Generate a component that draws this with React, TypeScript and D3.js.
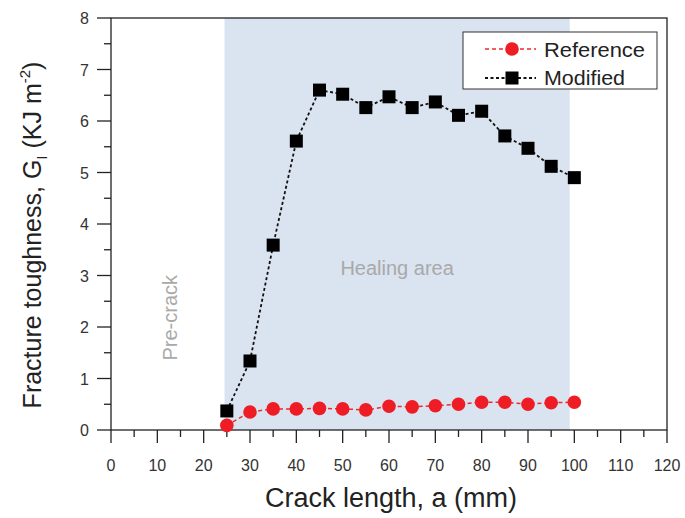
import React from 'react'
import * as d3 from 'd3'

// crack length (mm)
const crackLength = [25, 30, 35, 40, 45, 50, 55, 60, 65, 70, 75, 80, 85, 90, 95, 100]
const referenceG = [0.09, 0.35, 0.41, 0.41, 0.42, 0.41, 0.39, 0.46, 0.45, 0.47, 0.5, 0.54, 0.54, 0.5, 0.53, 0.54]
const modifiedG = [0.37, 1.34, 3.59, 5.61, 6.6, 6.52, 6.26, 6.47, 6.26, 6.37, 6.11, 6.19, 5.71, 5.47, 5.12, 4.9]
const healingRange = [24.5, 99]
const xTicks = d3.range(0, 121, 10)
const yTicks = d3.range(0, 9, 1)

const W = 685
const H = 518
const margin = { left: 111, right: 18, top: 18, bottom: 88 }

const App = () => {
  const x = d3.scaleLinear().domain([0, 120]).range([margin.left, W - margin.right])
  const y = d3.scaleLinear().domain([0, 8]).range([H - margin.bottom, margin.top])
  const line = d3
    .line<number>()
    .x((_, i) => x(crackLength[i]))
    .y((d) => y(d))

  const x0 = x(0)
  const x1 = x(120)
  const y0 = y(0)
  const y1 = y(8)
  const minorX = d3.range(5, 120, 10)
  const minorY = d3.range(0.5, 8, 1)
  const tickColor = '#222'

  return (
    <svg width={W} height={H} style={{ position: 'absolute', left: 0, top: 0, fontFamily: 'Liberation Sans, Arial, sans-serif' }}>
      <rect width={W} height={H} fill="#fff" />
      <rect x={x(healingRange[0])} y={y1} width={x(healingRange[1]) - x(healingRange[0])} height={y0 - y1} fill="#dae3f0" />
      <text x={(x(healingRange[0]) + x(healingRange[1])) / 2} y={y(3.05) + 2} textAnchor="middle" fontSize={20} fill="#a9a9a9">Healing area</text>
      <text transform={`translate(${x(14.2)},${y(2.18)}) rotate(-90)`} textAnchor="middle" fontSize={20} fill="#a9a9a9">Pre-crack</text>

      {/* frame */}
      <rect x={x0} y={y1} width={x1 - x0} height={y0 - y1} fill="none" stroke={tickColor} strokeWidth={1.3} />

      {/* x ticks */}
      {xTicks.map((t) => (
        <g key={'x' + t}>
          <line x1={x(t)} x2={x(t)} y1={y0} y2={y0 + 13} stroke={tickColor} strokeWidth={1.3} />
          <text x={x(t)} y={y0 + 41} textAnchor="middle" fontSize={16} fill="#333">{t}</text>
        </g>
      ))}
      {minorX.map((t) => (
        <line key={'mx' + t} x1={x(t)} x2={x(t)} y1={y0} y2={y0 + 7} stroke={tickColor} strokeWidth={1.3} />
      ))}
      {/* y ticks */}
      {yTicks.map((t) => (
        <g key={'y' + t}>
          <line x1={x0 - 14} x2={x0} y1={y(t)} y2={y(t)} stroke={tickColor} strokeWidth={1.3} />
          <text x={x0 - 22} y={y(t) + 6} textAnchor="end" fontSize={16} fill="#333">{t}</text>
        </g>
      ))}
      {minorY.map((t) => (
        <line key={'my' + t} x1={x0 - 7} x2={x0} y1={y(t)} y2={y(t)} stroke={tickColor} strokeWidth={1.3} />
      ))}

      {/* axis titles */}
      <text x={391} y={H - 11} textAnchor="middle" fontSize={27} fill="#222">Crack length, a (mm)</text>
      <text transform={`translate(41,235) rotate(-90)`} textAnchor="middle" fontSize={25} fill="#222">
        Fracture toughness, G<tspan fontSize={15} dy={6}>I</tspan>
        <tspan dy={-6}> (KJ m</tspan>
        <tspan fontSize={15} dy={-11}>-2</tspan>
        <tspan dy={11}>)</tspan>
      </text>

      {/* series */}
      <path d={line(referenceG) ?? ''} fill="none" stroke="#ee2a2a" strokeWidth={1.5} strokeDasharray="4,3" />
      <path d={line(modifiedG) ?? ''} fill="none" stroke="#111" strokeWidth={1.8} strokeDasharray="3,2.5" />
      {referenceG.map((v, i) => (
        <circle key={'r' + i} cx={x(crackLength[i])} cy={y(v)} r={6.8} fill="#ee1c24" />
      ))}
      {modifiedG.map((v, i) => (
        <rect key={'m' + i} x={x(crackLength[i]) - 6.5} y={y(v) - 6.5} width={13} height={13} fill="#000" />
      ))}

      {/* legend */}
      <g>
        <rect x={463} y={32} width={194} height={57} fill="#fff" stroke="#333" strokeWidth={1} />
        <line x1={485} x2={536} y1={49} y2={49} stroke="#ee2a2a" strokeWidth={1.5} strokeDasharray="4,3" />
        <circle cx={512} cy={49} r={6.8} fill="#ee1c24" />
        <text x={544} y={57} fontSize={20} fill="#222" textLength={101} lengthAdjust="spacingAndGlyphs">Reference</text>
        <line x1={485} x2={536} y1={78} y2={78} stroke="#111" strokeWidth={1.8} strokeDasharray="3,2.5" />
        <rect x={505.5} y={71.5} width={13} height={13} fill="#000" />
        <text x={544} y={85} fontSize={20} fill="#222" textLength={81} lengthAdjust="spacingAndGlyphs">Modified</text>
      </g>
    </svg>
  )
}

export default App
